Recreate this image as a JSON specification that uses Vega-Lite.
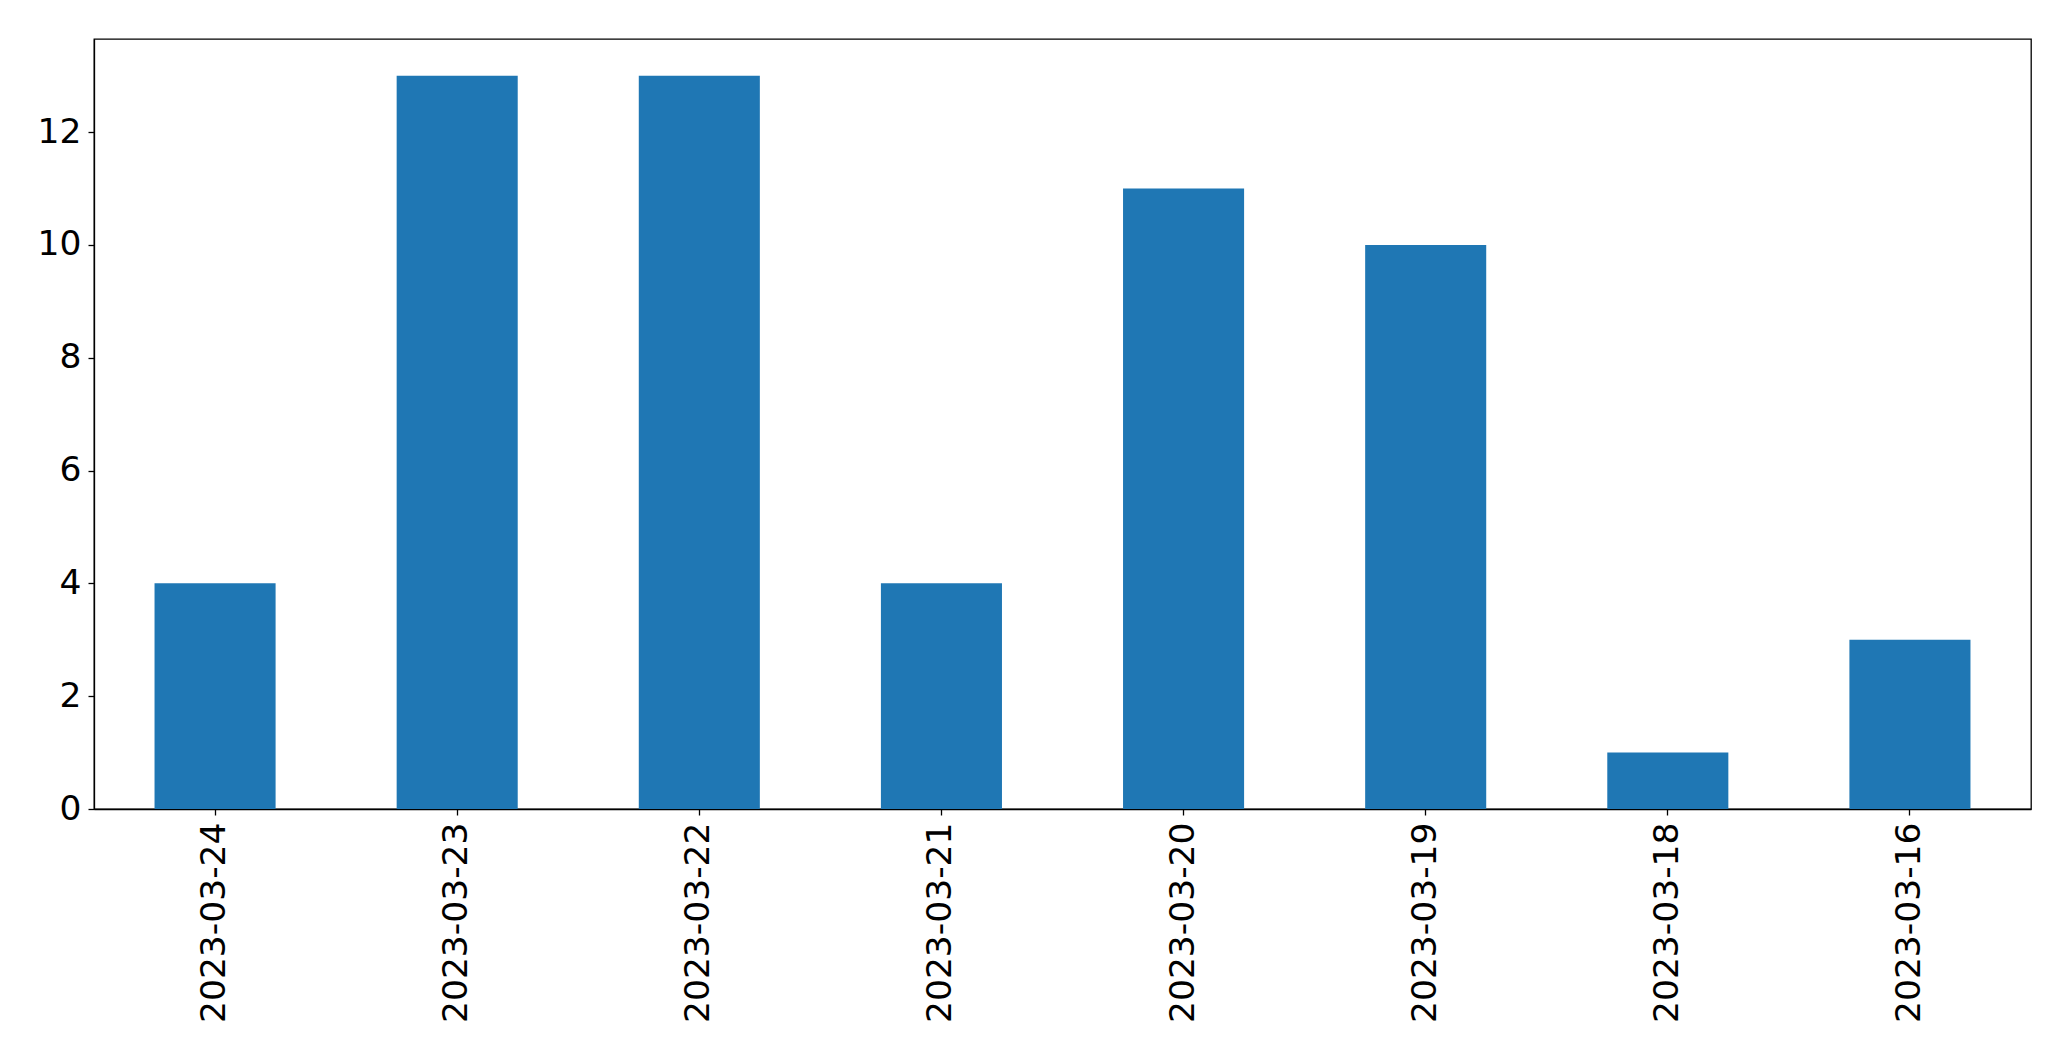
{
  "$schema": "https://vega.github.io/schema/vega-lite/v6.json",
  "width": 1937,
  "height": 770,
  "autosize": {"type": "none"},
  "padding": {"left": 94, "top": 39, "right": 40, "bottom": 252},
  "background": "white",
  "config": {
    "view": {"stroke": "black", "strokeWidth": 1.3},
    "axis": {
      "labelFont": "DejaVu Sans",
      "labelFontSize": 34.5,
      "labelColor": "black",
      "labelLimit": 0,
      "tickColor": "black",
      "tickSize": 6,
      "tickWidth": 1.3,
      "domainColor": "black",
      "domainWidth": 1.3,
      "grid": false,
      "title": null
    }
  },
  "data": {
    "values": [
      {"date": "2023-03-24", "count": 4},
      {"date": "2023-03-23", "count": 13},
      {"date": "2023-03-22", "count": 13},
      {"date": "2023-03-21", "count": 4},
      {"date": "2023-03-20", "count": 11},
      {"date": "2023-03-19", "count": 10},
      {"date": "2023-03-18", "count": 1},
      {"date": "2023-03-16", "count": 3}
    ]
  },
  "mark": {"type": "bar", "color": "#1f77b4"},
  "encoding": {
    "x": {
      "field": "date",
      "type": "nominal",
      "sort": null,
      "scale": {"paddingInner": 0.5, "paddingOuter": 0.25},
      "axis": {"labelAngle": -90, "labelPadding": 7}
    },
    "y": {
      "field": "count",
      "type": "quantitative",
      "scale": {"domain": [0, 13.65], "nice": false},
      "axis": {"values": [0, 2, 4, 6, 8, 10, 12], "labelPadding": 7}
    }
  }
}
